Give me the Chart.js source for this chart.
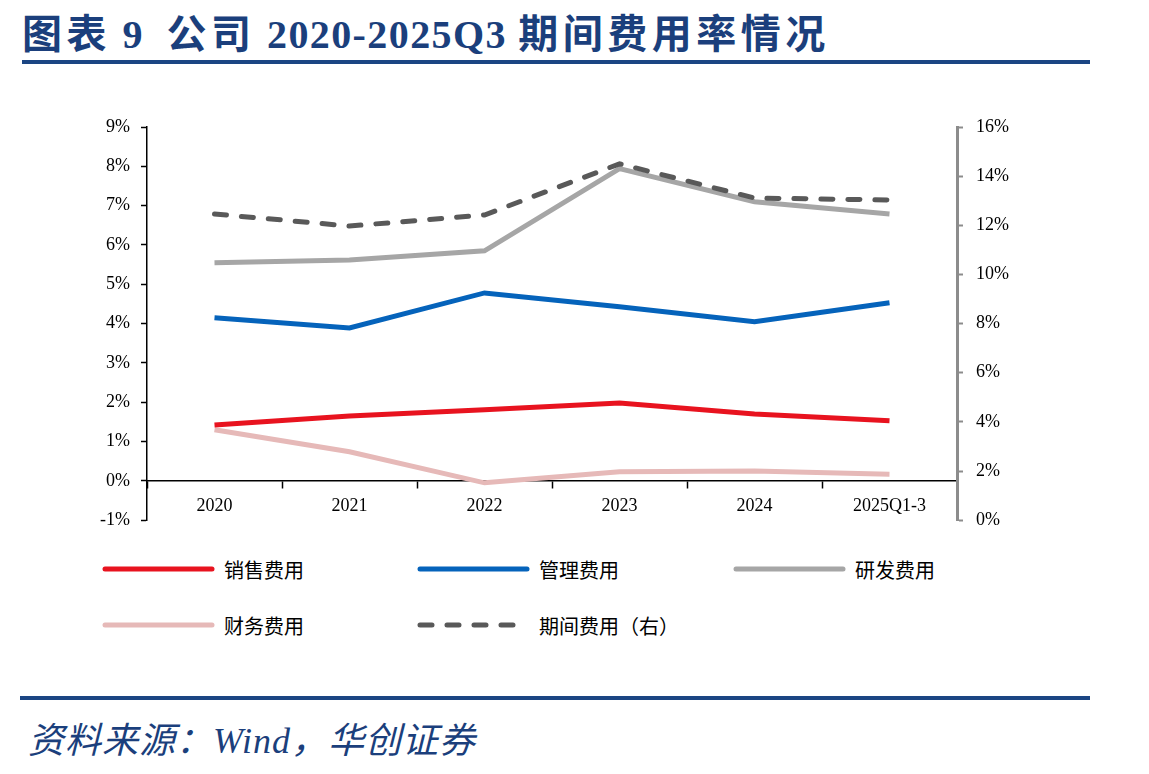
<!DOCTYPE html>
<html>
<head>
<meta charset="utf-8">
<script src="https://cdn.jsdelivr.net/npm/chart.js@4.4.0/dist/chart.umd.min.js"></script>
<style>
body{margin:0;width:1149px;height:774px;background:#fff;position:relative;overflow:hidden;}
#title{position:absolute;left:22px;top:2px;font-size:40px;font-weight:bold;color:#1B3F7C;white-space:nowrap;
  font-family:"Liberation Serif","Noto Sans CJK SC",serif;letter-spacing:1.4px;}
#title .cj{letter-spacing:4.5px;}
.rule{position:absolute;left:22px;width:1068px;height:4px;background:#1B4583;}
#box{position:absolute;left:0;top:100px;width:1100px;height:444px;}
.item{position:absolute;display:flex;align-items:center;font-family:"Noto Sans CJK SC";font-size:20px;color:#000;white-space:nowrap;}
.item canvas{margin-right:9px;}
#source{position:absolute;left:28px;top:718px;font-style:italic;font-size:36px;line-height:46px;letter-spacing:1px;color:#1B3F7C;white-space:nowrap;
  font-family:"Liberation Serif","Noto Sans CJK SC",serif;}
</style>
</head>
<body>
<div id="title"><span class="cj">图表</span> 9&nbsp;&nbsp;<span class="cj">公司</span> 2020-2025Q3 <span class="cj">期间费用率情况</span></div>
<div class="rule" style="top:60px"></div>
<div id="box"><canvas id="chart"></canvas></div>
<div id="legend"></div>
<div class="rule" style="top:696px;left:20px;width:1070px"></div>
<div id="source">资料来源：Wind，华创证券</div>
<script>
// 期间费用率 (%)
const categories = ['2020', '2021', '2022', '2023', '2024', '2025Q1-3'];
const salesRate   = [1.42, 1.65, 1.81, 1.98, 1.70, 1.53];   // 销售费用
const adminRate   = [4.15, 3.89, 4.78, 4.43, 4.05, 4.53];   // 管理费用
const rdRate      = [5.55, 5.62, 5.85, 7.94, 7.10, 6.79];   // 研发费用
const financeRate = [1.30, 0.74, -0.05, 0.23, 0.25, 0.17];  // 财务费用
const periodRate  = [12.46, 11.97, 12.42, 14.50, 13.11, 13.03]; // 期间费用（右）

const leftRange = [-1, 9, 1];
const rightRange = [0, 16, 2];

const tickFont = {family: 'Liberation Serif', size: 18};

const datasets = [
  {label: '销售费用', data: salesRate, borderColor: '#E8131F', yAxisID: 'y', order: 1},
  {label: '管理费用', data: adminRate, borderColor: '#0563BB', yAxisID: 'y', order: 2},
  {label: '研发费用', data: rdRate, borderColor: '#A6A6A6', yAxisID: 'y', order: 3},
  {label: '财务费用', data: financeRate, borderColor: '#E6B9B8', yAxisID: 'y', order: 4},
  {label: '期间费用（右）', data: periodRate, borderColor: '#595959', yAxisID: 'y2', order: 0,
   borderDash: [12, 15], borderCapStyle: 'round'}
];
datasets.forEach(d => {
  d.borderWidth = 5;
  d.pointRadius = 0;
  d.tension = 0;
  d.fill = false;
  d.backgroundColor = d.borderColor;
});

const config = {
  type: 'line',
  data: {labels: categories, datasets: datasets},
  options: {
    responsive: true,
    maintainAspectRatio: false,
    animation: false,
    layout: {padding: {top: 27, left: 0, right: 0, bottom: 0}},
    plugins: {legend: {display: false}, tooltip: {enabled: false}},
    scales: {
      x: {
        position: {y: 0},
        offset: true,
        afterFit: s => { s.height = 15; },
        grid: {offset: true, drawOnChartArea: false, drawTicks: true, tickLength: 7, color: '#000', tickWidth: 1.5},
        border: {color: '#000', width: 1.5},
        ticks: {font: tickFont, color: '#000', padding: 8, maxRotation: 0}
      },
      y: {
        position: 'left',
        min: leftRange[0], max: leftRange[1],
        afterFit: s => { s.width = 147; },
        grid: {drawOnChartArea: false, drawTicks: true, tickLength: 6, color: '#000', tickWidth: 1.5},
        border: {color: '#000', width: 1.5},
        ticks: {stepSize: leftRange[2], font: tickFont, color: '#000', padding: 11,
                callback: v => v + '%'}
      },
      y2: {
        position: 'right',
        min: rightRange[0], max: rightRange[1],
        afterFit: s => { s.width = 143; },
        grid: {drawOnChartArea: false, drawTicks: true, tickLength: 6, color: '#8C8C8C', tickWidth: 2},
        border: {color: '#8C8C8C', width: 3},
        ticks: {stepSize: rightRange[2], font: tickFont, color: '#000', padding: 13,
                callback: v => v + '%'}
      }
    }
  }
};

const myChart = new Chart(document.getElementById('chart'), config);

// legend built from the datasets
const legendPos = [[105, 569], [420, 569], [736, 569], [105, 625], [420, 625]];
const legend = document.getElementById('legend');
myChart.data.datasets.forEach((d, i) => {
  const item = document.createElement('div');
  item.className = 'item';
  item.style.left = legendPos[i][0] - 3 + 'px';
  item.style.top = legendPos[i][1] - 14 + 'px';
  item.style.height = '28px';
  const c = document.createElement('canvas');
  c.width = 113; c.height = 10;
  const ctx = c.getContext('2d');
  ctx.strokeStyle = d.borderColor;
  ctx.lineWidth = 5;
  ctx.lineCap = 'round';
  if (d.borderDash) ctx.setLineDash(d.borderDash);
  ctx.beginPath(); ctx.moveTo(3, 5); ctx.lineTo(110, 5); ctx.stroke();
  item.appendChild(c);
  const t = document.createElement('span');
  t.textContent = d.label;
  item.appendChild(t);
  legend.appendChild(item);
});
</script>
</body>
</html>
